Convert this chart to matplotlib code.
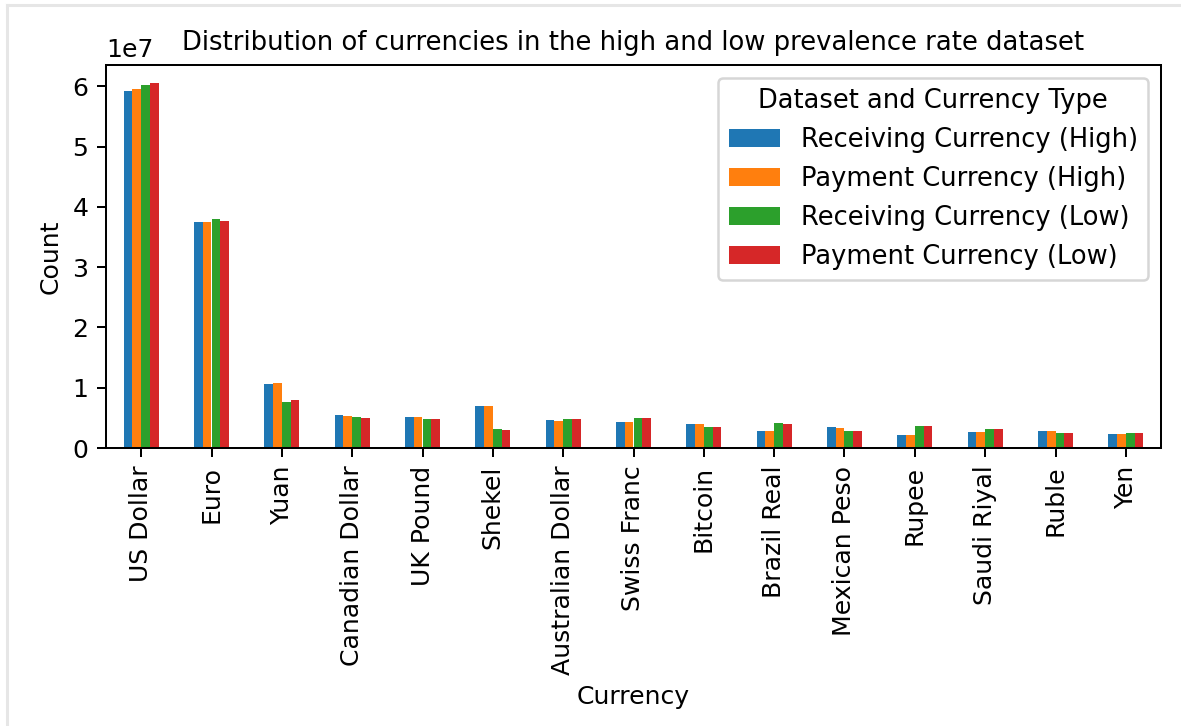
import numpy as np
import matplotlib.pyplot as plt
from matplotlib.lines import Line2D

currencies = ["US Dollar", "Euro", "Yuan", "Canadian Dollar", "UK Pound", "Shekel",
              "Australian Dollar", "Swiss Franc", "Bitcoin", "Brazil Real",
              "Mexican Peso", "Rupee", "Saudi Riyal", "Ruble", "Yen"]

# counts in units of 1e7
receiving_high = [5.92, 3.75, 1.06, 0.55, 0.515, 0.69, 0.465, 0.43, 0.39, 0.29, 0.345, 0.21, 0.27, 0.28, 0.23]
payment_high   = [5.95, 3.75, 1.08, 0.53, 0.515, 0.69, 0.455, 0.43, 0.39, 0.29, 0.33, 0.21, 0.27, 0.28, 0.23]
receiving_low  = [6.02, 3.79, 0.76, 0.515, 0.48, 0.31, 0.487, 0.50, 0.355, 0.415, 0.29, 0.37, 0.31, 0.245, 0.245]
payment_low    = [6.05, 3.77, 0.79, 0.50, 0.48, 0.30, 0.48, 0.50, 0.345, 0.40, 0.29, 0.37, 0.31, 0.245, 0.245]

series = [
    ("Receiving Currency (High)", receiving_high, "C0"),
    ("Payment Currency (High)", payment_high, "C1"),
    ("Receiving Currency (Low)", receiving_low, "C2"),
    ("Payment Currency (Low)", payment_low, "C3"),
]

dpi = 181
W, H = 1181, 726
fig = plt.figure(figsize=(W / dpi, H / dpi), dpi=dpi)
ax = fig.add_axes([106 / W, 1 - 448 / H, (1161 - 106) / W, (448 - 65) / H])

x = np.arange(len(currencies))
w = 0.125
for i, (name, vals, col) in enumerate(series):
    ax.bar(x + (i - 1.5) * w, np.array(vals) * 1e7, width=w, color=col, label=name)

ax.set_xlim(-0.5, len(currencies) - 0.5)
ax.set_xticks(x)
ax.set_xticklabels(currencies, rotation=90)
ax.set_xlabel("Currency")
ax.set_ylabel("Count")
ax.set_title("Distribution of currencies in the high and low prevalence rate dataset", fontsize=10.3)
ax.legend(title="Dataset and Currency Type", loc="upper right",
          fontsize=10.25, title_fontsize=10.25)

# screenshot frame
fig.add_artist(Line2D([7 / W, 7 / W], [0, 1 - 5 / H], color="#e6e6e6", lw=1.2))
fig.add_artist(Line2D([7 / W, 1], [1 - 5 / H, 1 - 5 / H], color="#e6e6e6", lw=1.2))

fig.savefig("out.png", dpi=dpi)
